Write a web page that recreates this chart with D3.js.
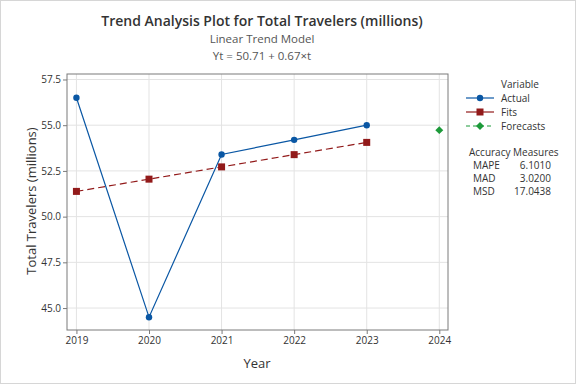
<!DOCTYPE html>
<html><head><meta charset="utf-8">
<script src="https://cdn.jsdelivr.net/npm/d3@7"></script>
<style>body{margin:0;background:#fff}svg{display:block;font-family:"Open Sans","Noto Sans",sans-serif}</style>
</head><body><svg id="c" width="576" height="384"></svg>
<script>
const years = [2019, 2020, 2021, 2022, 2023];
const actual = [56.5, 44.5, 53.4, 54.2, 55.0];
const fits = [51.38, 52.05, 52.72, 53.39, 54.06];
const forecastYears = [2024];
const forecasts = [54.73];
const xTicks = [2019, 2020, 2021, 2022, 2023, 2024];
const yTicks = [45.0, 47.5, 50.0, 52.5, 55.0, 57.5];
const measureNames = ["MAPE", "MAD", "MSD"];
const measureValues = ["6.1010", "3.0200", "17.0438"];

const svg = d3.select("#c");
const W = 576, H = 384;
const L = 67, R = 448, T = 74, B = 330;
const cBlue = "#0a57a4", cRed = "#921a1a", cGreen = "#1d9a3a", cText = "#333";

svg.append("rect").attr("x",0.5).attr("y",0.5).attr("width",W-1).attr("height",H-1)
  .attr("fill","#fff").attr("stroke","#d6d6d6");

const x = d3.scaleLinear().domain([2018.87, 2024.12]).range([L, R]);
const y = d3.scaleLinear().domain([43.8, 57.8]).range([B, T]);

// grid
const g = svg.append("g");
g.selectAll(".gx").data(xTicks).join("line")
  .attr("x1",d=>x(d)).attr("x2",d=>x(d)).attr("y1",T).attr("y2",B)
  .attr("stroke","#e3e3e3").attr("stroke-width",1);
g.selectAll(".gy").data(yTicks).join("line")
  .attr("y1",d=>y(d)).attr("y2",d=>y(d)).attr("x1",L).attr("x2",R)
  .attr("stroke","#e3e3e3").attr("stroke-width",1);

// frame
svg.append("rect").attr("x",L).attr("y",T).attr("width",R-L).attr("height",B-T)
  .attr("fill","none").attr("stroke","#7a7a7a").attr("stroke-width",1);

// axes
const xAxis = svg.append("g").attr("transform",`translate(0,${B})`)
  .call(d3.axisBottom(x).tickValues(xTicks).tickFormat(d3.format("d")).tickSize(4).tickPadding(3));
const yAxis = svg.append("g").attr("transform",`translate(${L},0)`)
  .call(d3.axisLeft(y).tickValues(yTicks).tickFormat(d3.format(".1f")).tickSize(4).tickPadding(2));
[xAxis,yAxis].forEach(a=>{
  a.select(".domain").remove();
  a.selectAll(".tick line").attr("stroke","#7a7a7a");
  a.selectAll(".tick text").attr("fill",cText).style("font-size","10px").style("font-family",'"Open Sans",sans-serif');
});

// lines
const line = d3.line().x(d=>x(d[0])).y(d=>y(d[1]));
svg.append("path").datum(years.map((d,i)=>[d,actual[i]])).attr("d",line)
  .attr("fill","none").attr("stroke",cBlue).attr("stroke-width",1.2);
svg.append("path").datum(years.map((d,i)=>[d,fits[i]])).attr("d",line)
  .attr("fill","none").attr("stroke",cRed).attr("stroke-width",1.2).attr("stroke-dasharray","7,4");

svg.selectAll(".pa").data(years).join("circle")
  .attr("cx",d=>x(d)).attr("cy",(d,i)=>y(actual[i])).attr("r",3.2).attr("fill",cBlue);
svg.selectAll(".pf").data(years).join("rect")
  .attr("x",d=>x(d)-3.5).attr("y",(d,i)=>y(fits[i])-3.5).attr("width",7).attr("height",7).attr("fill",cRed);
const diamond = d3.symbol().type(d3.symbolDiamond2).size(40);
svg.selectAll(".pfc").data(forecastYears).join("path")
  .attr("d",diamond).attr("transform",(d,i)=>`translate(${x(d)},${y(forecasts[i])})`).attr("fill",cGreen);

// titles
svg.append("text").attr("x",262).attr("y",26).attr("text-anchor","middle")
  .attr("fill",cText).style("font-size","14px").style("font-weight","600").text("Trend Analysis Plot for Total Travelers (millions)");
svg.append("text").attr("x",262).attr("y",43).attr("text-anchor","middle")
  .attr("fill","#555").style("font-size","11.5px").text("Linear Trend Model");
svg.append("text").attr("x",262).attr("y",60).attr("text-anchor","middle")
  .attr("fill","#555").style("font-size","11.5px").text("Yt = 50.71 + 0.67×t");
svg.append("text").attr("x",257).attr("y",368).attr("text-anchor","middle")
  .attr("fill",cText).style("font-size","13px").text("Year");
svg.append("text").attr("transform","translate(36,201) rotate(-90)").attr("text-anchor","middle")
  .attr("fill",cText).style("font-size","13px").text("Total Travelers (millions)");

// legend
const lg = svg.append("g").style("font-size","10px").attr("fill",cText);
lg.append("text").attr("x",501).attr("y",88).text("Variable");
const items = [
  {name:"Actual", color:cBlue, dash:null, sym:"circle"},
  {name:"Fits", color:cRed, dash:null, sym:"square"},
  {name:"Forecasts", color:cGreen, dash:"4,3", sym:"diamond"}
];
items.forEach((it,i)=>{
  const yy = 98 + i*14;
  lg.append("line").attr("x1",466).attr("x2",494).attr("y1",yy).attr("y2",yy)
    .attr("stroke",it.color).attr("stroke-width",1.2).attr("stroke-dasharray",it.dash);
  if(it.sym==="circle") lg.append("circle").attr("cx",480).attr("cy",yy).attr("r",3.2).attr("fill",it.color);
  else if(it.sym==="square") lg.append("rect").attr("x",476.5).attr("y",yy-3.5).attr("width",7).attr("height",7).attr("fill",it.color);
  else lg.append("path").attr("d",diamond).attr("transform",`translate(480,${yy})`).attr("fill",it.color);
  lg.append("text").attr("x",501).attr("y",yy+3.5).text(it.name);
});
lg.append("text").attr("x",469).attr("y",156).text("Accuracy Measures");
measureNames.forEach((n,i)=>{
  const yy = 169 + i*13;
  lg.append("text").attr("x",473).attr("y",yy).text(n);
  lg.append("text").attr("x",551).attr("y",yy).attr("text-anchor","end").text(measureValues[i]);
});
</script></body></html>
